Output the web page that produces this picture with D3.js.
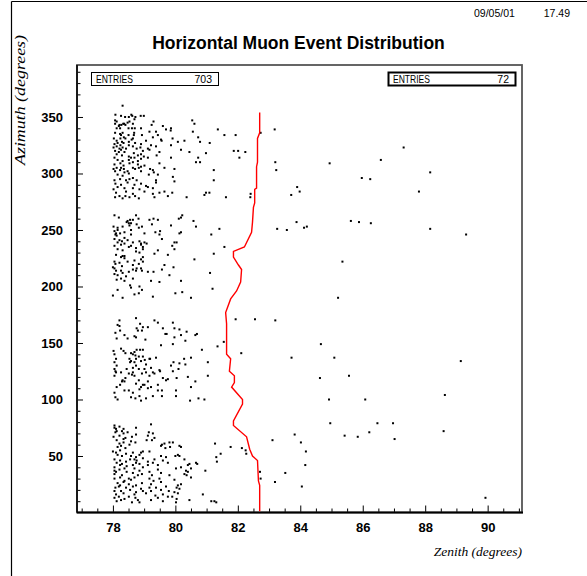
<!DOCTYPE html>
<html>
<head>
<meta charset="utf-8">
<script src="https://cdn.jsdelivr.net/npm/d3@7"></script>
<style>
body{margin:0;background:#fff;}
</style>
</head>
<body>
<div id="chart"></div>
<script>
//Tick labels
var xTicks=[78,80,82,84,86,88,90];
var yTicks=[50,100,150,200,250,300,350];

//Stats boxes
var entryCounts=[703,72];

//Events [zenith, azimuth], by azimuth band
var band300=[[78.31,360],[78.08,352],[78.26,351],[78.39,350],[78.51,350],[78.59,352],[78.62,351],[78.72,350],[78.89,351],[78.99,351],
[78.07,347],[78.12,346],[78.53,346],[78.69,348],[79.30,346],[80.54,347],
[78.07,344],[78.21,343],[78.27,343],[78.33,344],[78.36,344],[78.40,343],[78.47,345],[78.64,344],[79.24,343],
[78.12,340],[78.19,342],[78.23,340],[78.50,340],[78.61,340],[78.70,340],[78.90,340],[79.60,342],[79.70,339],[79.86,340],[79.85,338],
[78.07,336],[78.31,336],[78.68,336],[79.17,337],[79.38,337],[80.56,337],
[78.23,335],[78.26,334],[78.50,334],[78.67,334],[78.93,334],[79.44,334],
[78.03,331],[78.24,331],[78.35,332],[78.40,331],[78.64,331],[79.28,332],[79.54,330],[79.91,331],[80.73,332],
[78.12,329],[78.29,328],[78.51,328],[78.60,330],[78.71,327],[79.06,329],[79.56,329],[80.08,328],[80.29,329],
[78.05,326],[78.15,327],[78.24,325],[78.34,327],[78.51,325],[78.90,326],[79.22,325],[79.86,325],
[78.02,323],[78.12,324],[78.21,322],[78.31,323],[78.42,322],[78.64,324],[78.76,322],[78.88,323],[79.12,322],[79.38,324],[80.18,321],
[78.07,320],[78.19,319],[78.26,321],[78.37,319],[78.96,320],[79.17,321],[79.49,319],[80.45,319],
[78.12,317],[78.29,316],[78.67,318],[78.80,316],[78.90,317],[79.40,316],
[78.05,314],[78.51,315],[78.58,314],[78.69,314],[78.90,313],[78.99,315],[79.12,314],[79.86,314],[80.73,314],
[78.15,312],[78.31,311],[78.51,312],[78.64,310],[78.80,311],[80.66,310],
[78.05,308],[78.24,309],[78.34,307],[78.53,309],[78.80,308],[79.01,307],[79.49,309],
[78.02,304],[78.12,305],[78.26,305],[78.35,304],[78.64,305],[78.71,304],[78.83,305],[78.90,306],[79.19,304],[79.65,305],[79.97,304],
[78.07,302],[78.23,303],[78.37,301],[78.47,302],[78.90,302],[79.28,303],[79.31,301],
[78.15,299],[78.31,298],[78.51,300],[79.15,299],[79.44,299],[79.92,297],
[78.05,294],[78.23,295],[78.42,294],[78.53,295],[78.64,296],[78.76,294],[79.38,294],[79.97,293],
[78.08,291],[78.26,290],[78.47,292],[78.69,290],[78.90,291],[79.06,289],[79.38,292],
[78.02,286],[78.15,288],[78.37,287],[78.64,287],[78.85,286],[79.12,288],[79.28,287],
[78.10,283],[78.42,284],[78.64,282],[79.01,284],[79.28,282],[79.49,283],[79.65,284],[79.90,283],
[78.07,279],[78.21,280],[78.31,278],[78.40,280],[78.53,279],[78.71,280],[78.83,278],[79.33,279],[79.76,280],[80.36,279]];

var band250=[[78.05,263],[78.19,261],[78.74,263],[80.22,263],[80.18,261],
[78.47,258],[78.55,259],[78.64,259],[78.82,260],[79.17,259],[79.30,260],[79.44,259],[80.11,260],[80.58,258],
[78.44,257],[78.51,256],[78.58,256],[78.76,255],[79.25,255],
[78.02,253],[78.15,252],[78.31,253],[78.53,254],[78.83,252],[78.93,253],[79.86,254],[80.66,253],
[78.05,249],[78.10,247],[78.15,250],[78.37,248],[78.58,250],[79.01,247],[79.36,248],[79.51,249],[80.18,248],
[78.08,246],[78.12,245],[78.23,247],[78.58,246],[79.49,246],[80.13,247],
[78.05,242],[78.21,241],[78.37,243],[78.47,241],[79.57,242],
[78.15,239],[78.29,240],[78.37,238],[78.64,239],[78.85,240],[78.90,238],[79.01,239],[79.08,238],[79.97,239],[80.04,239],
[78.05,236],[78.26,237],[78.51,235],[78.58,236],[78.74,234],[78.90,237],[78.96,235],[79.90,236],
[78.15,233],[78.31,232],[78.74,231],[78.96,233],[79.44,232],[79.97,233],
[78.10,228],[78.37,227],[78.85,230],[79.33,229],[79.76,228],
[78.26,226],[78.31,227],[78.37,225],[78.90,224],[78.96,226],
[78.05,222],[78.47,222],[78.69,223],[78.96,222],[80.61,224],
[78.08,220],[78.21,221],[78.64,219],[78.83,220],[79.65,219],
[78.00,217],[78.05,216],[78.29,218],[78.76,216],[78.90,216],[79.94,217],
[78.10,214],[78.26,214],[78.51,213],[78.64,215],[78.74,214],[78.93,214],[79.12,213],[79.30,213],[79.57,215],
[78.05,211],[78.15,210],[78.31,212],[78.42,209],[79.81,210],
[78.12,206],[78.26,207],[78.37,205],[78.64,207],[79.22,205],[79.49,204],[80.18,205],
[78.55,201],[78.85,200],
[78.15,197],[78.58,199],[78.93,197],
[78.00,192],[78.69,193],[78.83,194],[80.00,194],[80.22,195],
[78.31,190],[79.28,191],[80.50,190]];

var band150=[[78.21,170],[78.74,172],[79.33,170],
[78.87,167],[79.44,168],[79.92,168],
[78.15,166],[78.21,165],[78.76,163],[78.96,164],[79.12,164],[79.60,163],[79.97,163],
[78.08,159],[78.23,161],[78.80,161],[78.93,161],[80.13,162],
[78.37,157],[78.69,156],[79.68,158],[79.72,158],[80.18,157],[80.36,160],[80.69,158],[80.64,157],
[78.12,154],[78.47,154],[78.74,155],[79.04,153],[79.97,155],
[80.32,152],[79.54,148],[79.92,149],
[78.26,145],[78.34,143],[78.76,144],[78.87,144],[78.96,144],
[78.02,143],[78.40,141],[78.58,141],[78.69,142],
[78.05,140],[78.64,140],[78.72,139],[78.83,138],[78.96,138],[79.17,136],
[78.10,136],[78.53,136],[78.58,134],[78.74,136],[79.02,135],[79.19,136],[79.38,137],[80.50,137],[80.28,136],
[78.05,133],[78.55,133],[78.69,133],[78.90,134],[79.94,133],[80.13,132],
[78.12,130],[78.74,130],[79.06,131],[80.32,131],[79.86,130],
[78.05,127],[78.44,127],[78.64,128],[78.83,127],[79.01,127],[79.22,128],[79.49,126],[80.10,127],
[78.08,125],[78.10,124],[78.26,124],[78.51,123],[78.64,124],[78.93,123],[79.06,124],[79.28,124],[79.33,123],[79.51,125],[79.92,125],
[78.05,121],[78.31,117],[78.40,119],[78.61,122],[78.69,121],[79.17,121],[79.60,119],[79.70,117],[79.76,118],[80.04,119],[80.40,120],
[78.29,116],[78.37,116],[78.83,117],[79.12,116],[80.64,116],
[78.23,113],[78.74,114],[78.96,113],[79.01,113],[79.44,113],
[78.12,111],[78.90,111],[79.12,110],[79.22,111],[80.50,111],
[78.37,108],[78.51,108],[78.85,109],[79.44,108],[79.57,108],[80.02,108],
[78.05,106],[78.64,106],
[78.08,102],[78.58,102],[78.72,101],[78.85,103],[79.06,101],[79.28,103],[79.57,103],[80.02,103],
[78.15,100],[78.90,99],[80.47,99]];

var band50=[[78.05,77],[79.22,78],
[78.05,75],[78.10,74],[78.21,76],[78.34,74],[78.74,75],
[78.08,71],[78.12,72],[78.29,72],[78.34,70],[78.47,71],[79.15,71],[79.28,70],
[78.02,67],[78.21,68],[78.40,66],[78.61,67],[78.74,69],[79.12,68],[79.33,66],
[78.12,64],[78.34,65],[78.58,63],[79.08,64],[79.25,64],
[78.21,61],[78.34,62],[78.53,60],[78.72,62],[79.57,60],[79.65,61],[79.81,62],[79.92,62],
[78.15,58],[78.26,59],[78.40,57],[79.54,59],[79.68,57],[79.83,58],[80.13,59],[80.18,58],
[78.00,54],[78.10,53],[78.23,55],[78.64,53],[78.90,53],[78.96,54],[79.17,54],
[78.15,51],[78.29,50],[78.42,52],[78.58,50],[78.74,49],[78.85,51],[79.54,50],[79.70,49],[80.00,50],[80.08,51],[80.13,50],
[78.05,47],[78.23,46],[78.42,45],[78.55,47],[78.69,47],[78.76,46],[78.96,48],[79.12,45],[79.33,47],[79.60,46],[80.29,47],
[78.12,44],[78.29,43],[78.64,42],[78.74,44],[78.85,43],[79.28,44],[79.44,42],[79.76,44],[80.45,43],[80.66,44],[80.40,42],
[78.05,40],[78.23,42],[78.37,39],[78.44,41],[78.69,39],[78.96,40],[79.12,42],[80.02,39],[80.18,40],[80.50,39],
[78.05,37],[78.10,36],[78.21,38],[78.44,36],[78.85,37],[79.17,36],[79.44,38],[80.34,37],[80.40,36],
[78.05,34],[78.29,33],[78.64,35],[78.80,33],[78.93,34],[79.25,33],[79.54,35],[79.81,33],[80.29,34],[80.36,33],
[78.05,30],[78.23,31],[78.37,28],[78.51,30],[78.58,29],[78.69,31],[79.17,30],[79.30,28],[79.49,30],[79.97,29],[80.50,31],
[78.15,26],[78.23,24],[78.34,27],[78.51,25],[78.74,24],[78.93,26],[79.22,25],[79.54,27],[80.18,25],[80.08,24],
[78.08,22],[78.19,23],[78.42,22],[78.64,23],[78.90,21],[79.17,22],[79.38,22],[79.70,23],[80.04,22],[80.13,21],
[78.05,19],[78.26,19],[78.55,20],[78.74,18],[78.96,19],[79.22,19],[79.54,20],[79.79,19],[79.97,18],
[78.10,16],[78.34,17],[78.51,14],[78.69,16],[79.06,17],[79.36,15],[79.60,16],[79.76,14],[80.08,17],
[78.05,13],[78.19,14],[78.37,12],[78.72,13],[78.80,11],[79.44,13],[79.90,14],[80.04,12],[80.45,11],
[78.12,10],[78.26,11],[78.61,9],[78.85,9],[79.22,11],[79.60,10],[80.02,9]];

//Sparse events away from the main clusters
var outer=[[80.61,344],[81.36,339],[81.57,334],[81.93,334],[83.18,339],[82.73,336],[80.79,328],[81.10,327],[81.87,320],[82.01,320],
[82.24,319],[82.05,314],[80.98,318],[80.79,310],[83.20,310],[81.23,303],[83.23,303],[81.23,294],[80.98,283],[81.09,283],
[80.93,281],[81.62,279],[82.41,282],[82.40,279],[83.90,288],[83.98,284],[83.71,281],[81.41,251],[83.88,257],[83.26,251],
[83.57,250],[84.12,252],[81.15,246],[81.57,235],[81.23,229],[81.11,212],[81.19,198],
[81.93,171],[82.55,171],[83.20,170],[81.55,151],[81.35,147],[80.85,144],[82.11,141],[83.72,137],[81.04,133],[81.04,121],
[80.74,101],[80.93,100],[83.82,69],[83.11,64],[84.02,62],[81.27,61],[81.77,58],[82.13,57],[82.25,55],[82.27,52],[81.45,52],
[81.31,49],[81.33,45],[80.70,43],[80.96,37],[82.71,36],[83.52,35],[82.73,30],[83.19,27],[84.05,23],[80.88,16],[81.15,10],
[81.25,10],[81.31,9],
[87.31,323],[84.94,309],[86.58,312],[88.16,301],[85.97,296],[86.24,295],[87.80,284],[85.62,258],[85.88,257],[86.26,256],
[84.21,253],[88.16,251],[89.31,246],[85.35,222],[85.21,190],
[84.66,149],[85.09,137],[89.14,134],[84.63,119],[85.56,121],[84.92,100],[86.08,100],[88.63,104],[84.96,79],[86.47,79],
[86.97,79],[85.42,68],[85.84,67],[86.21,71],[87.02,65],[88.59,72],[84.18,54],[84.16,42],[89.93,13]];

//Horizontal cut curve [zenith, azimuth]
var cutCurve=[[82.70,1],[82.70,24],[82.66,28],[82.63,46],[82.47,50],[82.38,56],[82.28,67],[81.86,77],[81.86,81],
[82.15,96],[82.15,100],[81.80,111],[81.89,115],[81.89,121],[81.73,125],[81.77,136],[81.64,140],[81.64,167],
[81.61,177],[81.77,189],[81.96,196],[82.09,204],[82.12,215],[82.02,219],[81.86,226],[81.86,231],[82.21,235],
[82.44,248],[82.47,257],[82.50,270],[82.54,274],[82.54,286],[82.60,287],[82.60,306],[82.63,310],[82.63,331],
[82.70,336],[82.70,354]];

var w=587;
var h=576;
var margin={left:77,right:522,top:65,bottom:512.5};

var svg=d3.select("#chart")
          .append("svg")
          .attr("width",w)
          .attr("height",h)
          .style("font-family","'Liberation Sans',Arial,sans-serif");

//Page frame
svg.append("line").attr("x1",11.5).attr("y1",1.5).attr("x2",11.5).attr("y2",h).attr("stroke","#000").attr("stroke-width",1.2);
svg.append("line").attr("x1",11.5).attr("y1",1.5).attr("x2",w).attr("y2",1.5).attr("stroke","#000").attr("stroke-width",1.2);

//Date stamp
svg.append("text").text("09/05/01").attr("x",474).attr("y",17).style("font-size","10.5px");
svg.append("text").text("17.49").attr("x",570).attr("y",17).attr("text-anchor","end").style("font-size","10.5px");

//Title
svg.append("text")
   .text("Horizontal Muon Event Distribution")
   .attr("x",298.5)
   .attr("y",49)
   .attr("text-anchor","middle")
   .style("font-weight","bold")
   .style("font-size","17.5px");

var x=d3.scaleLinear().domain([76.85,91.1]).range([margin.left,margin.right]);
var y=d3.scaleLinear().domain([0,396]).range([margin.bottom,margin.top]);

//Minor ticks
var xMinor=d3.range(77,91.01,0.5).filter(function(d) {return xTicks.indexOf(d)<0;});
var yMinor=d3.range(10,391,10).filter(function(d) {return yTicks.indexOf(d)<0;});

svg.append("g")
   .attr("transform","translate(0,"+margin.bottom+")")
   .call(d3.axisBottom(x).tickValues(xMinor).tickSize(-4).tickFormat(""))
   .call(function(g) {g.select(".domain").remove();});
svg.append("g")
   .attr("transform","translate("+margin.left+",0)")
   .call(d3.axisLeft(y).tickValues(yMinor).tickSize(-3.5).tickFormat(""))
   .call(function(g) {g.select(".domain").remove();});

//Major ticks with labels
var xAxis=svg.append("g")
   .attr("transform","translate(0,"+margin.bottom+")")
   .call(d3.axisBottom(x).tickValues(xTicks).tickSize(-7).tickPadding(10))
   .call(function(g) {g.select(".domain").remove();});
xAxis.selectAll("text").style("font-size","13px").style("font-weight","bold").attr("fill","#000");

var yAxis=svg.append("g")
   .attr("transform","translate("+margin.left+",0)")
   .call(d3.axisLeft(y).tickValues(yTicks).tickSize(-6).tickPadding(14))
   .call(function(g) {g.select(".domain").remove();});
yAxis.selectAll("text").style("font-size","13px").style("font-weight","bold").attr("fill","#000");

//Plot frame
svg.append("rect")
   .attr("x",margin.left)
   .attr("y",margin.top)
   .attr("width",margin.right-margin.left)
   .attr("height",margin.bottom-margin.top)
   .attr("fill","none")
   .attr("stroke","#555")
   .attr("stroke-width",1.8);
svg.append("line").attr("x1",margin.left).attr("x2",margin.right+1).attr("y1",margin.bottom).attr("y2",margin.bottom).attr("stroke","#000").attr("stroke-width",2);
svg.append("line").attr("x1",margin.left).attr("x2",margin.left).attr("y1",margin.top).attr("y2",margin.bottom).attr("stroke","#000").attr("stroke-width",1.5);

//Events
var events=band300.concat(band250,band150,band50,outer);
svg.append("g")
   .attr("id","events")
   .selectAll("rect")
   .data(events)
   .enter()
   .append("rect")
   .attr("x",function(d) {return x(d[0])-1;})
   .attr("y",function(d) {return y(d[1])-1;})
   .attr("width",2)
   .attr("height",2)
   .attr("fill","#000");

//Cut curve
var line=d3.line()
           .x(function(d) {return x(d[0]);})
           .y(function(d) {return y(d[1]);});
svg.append("path")
   .datum(cutCurve)
   .attr("d",line)
   .attr("fill","none")
   .attr("stroke","#ff0000")
   .attr("stroke-width",1.4);

//Stats boxes
var boxes=[{x:91.5,w:127,sw:1,count:entryCounts[0],cx:212},{x:388.5,w:127,sw:2,count:entryCounts[1],cx:509}];
boxes.forEach(function(b) {
    svg.append("rect")
       .attr("x",b.x)
       .attr("y",72.5)
       .attr("width",b.w)
       .attr("height",13)
       .attr("fill","#fff")
       .attr("stroke","#000")
       .attr("stroke-width",b.sw);
    svg.append("text")
       .text("ENTRIES")
       .attr("x",b.x+4.5)
       .attr("y",83)
       .attr("textLength",37)
       .attr("lengthAdjust","spacingAndGlyphs")
       .style("font-size","10.5px");
    svg.append("text")
       .text(b.count)
       .attr("x",b.cx)
       .attr("y",83)
       .attr("text-anchor","end")
       .style("font-size","10.5px");
});

//Axis titles
svg.append("text")
   .text("Zenith (degrees)")
   .attr("x",522)
   .attr("y",556)
   .attr("text-anchor","end")
   .style("font-family","'Liberation Serif','Times New Roman',serif")
   .style("font-style","italic")
   .style("font-size","13.5px");
svg.append("text")
   .text("Azimuth (degrees)")
   .attr("transform","translate(25,165) rotate(-90)")
   .attr("text-anchor","start")
   .attr("textLength",130)
   .attr("lengthAdjust","spacingAndGlyphs")
   .style("font-family","'Liberation Serif','Times New Roman',serif")
   .style("font-style","italic")
   .style("font-size","15.5px");
</script>
</body>
</html>
